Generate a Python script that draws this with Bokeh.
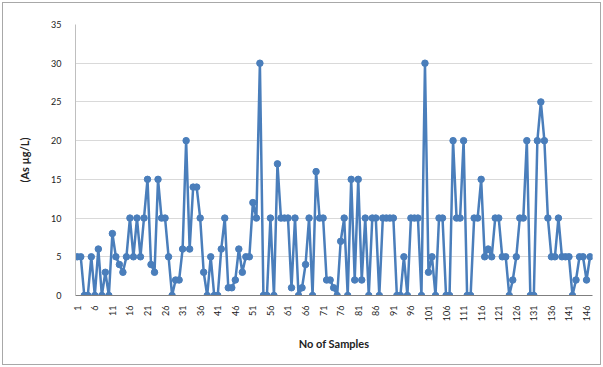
import math
from bokeh.plotting import figure
from bokeh.models import FixedTicker, Range1d, InlineStyleSheet
from bokeh.embed import file_html
from bokeh.resources import INLINE

samples = list(range(1, 148))
as_values = [
    5, 5, 0, 0, 5, 0, 6, 0, 3, 0,
    8, 5, 4, 3, 5, 10, 5, 10, 5, 10,
    15, 4, 3, 15, 10, 10, 5, 0, 2, 2,
    6, 20, 6, 14, 14, 10, 3, 0, 5, 0,
    0, 6, 10, 1, 1, 2, 6, 3, 5, 5,
    12, 10, 30, 0, 0, 10, 0, 17, 10, 10,
    10, 1, 10, 0, 1, 4, 10, 0, 16, 10,
    10, 2, 2, 1, 0, 7, 10, 0, 15, 2,
    15, 2, 10, 0, 10, 10, 0, 10, 10, 10,
    10, 0, 0, 5, 0, 10, 10, 10, 0, 30,
    3, 5, 0, 10, 10, 0, 0, 20, 10, 10,
    20, 0, 0, 10, 10, 15, 5, 6, 5, 10,
    10, 5, 5, 0, 2, 5, 10, 10, 20, 0,
    0, 20, 25, 20, 10, 5, 5, 10, 5, 5,
    5, 0, 2, 5, 5, 2, 5,
]
x_ticks = list(range(1, 147, 5))
y_ticks = [0, 5, 10, 15, 20, 25, 30, 35]

FONT = "Lato"
BLUE = "#4A7EBB"

frame_css = InlineStyleSheet(css="""
:host::after {
  content: "";
  position: absolute;
  left: 2px; top: 2px; right: 2px; bottom: 2px;
  border: 1px solid #a8a8a8;
  pointer-events: none;
}
""")

p = figure(width=603, height=367, output_backend="svg", toolbar_location=None,
           x_range=Range1d(0.5, 147.7), y_range=Range1d(0, 35),
           min_border_left=75, min_border_right=11, min_border_top=24,
           min_border_bottom=72, stylesheets=[frame_css])

p.line(samples, as_values, line_color=BLUE, line_width=2.5)
p.scatter(samples, as_values, size=6.5, fill_color=BLUE, line_color=BLUE)

p.outline_line_color = None
p.xgrid.grid_line_color = None
p.ygrid.grid_line_color = "#d9d9d9"
p.ygrid.grid_line_width = 1

p.xaxis.ticker = FixedTicker(ticks=x_ticks)
p.yaxis.ticker = FixedTicker(ticks=y_ticks)
p.xaxis.major_label_orientation = math.pi / 2

for ax in (p.xaxis[0], p.yaxis[0]):
    ax.major_tick_line_color = None
    ax.minor_tick_line_color = None
    ax.major_label_text_font = FONT
    ax.major_label_text_font_size = "9px"
    ax.major_label_text_color = "#222222"
    ax.axis_label_text_font = FONT
    ax.axis_label_text_font_style = "bold"
    ax.axis_label_text_font_size = "11px"
    ax.axis_label_text_color = "#222222"

p.xaxis.axis_line_color = "#7f7f7f"
p.yaxis.axis_line_color = "#bfbfbf"
p.xaxis.major_label_standoff = 4
p.yaxis.major_label_standoff = 8
p.xaxis.axis_label = "No of Samples"
p.yaxis.axis_label = "(As \u00b5g/L)"
p.xaxis.axis_label_standoff = 13
p.yaxis.axis_label_standoff = 17

open("out.html", "w").write(file_html(p, INLINE))
